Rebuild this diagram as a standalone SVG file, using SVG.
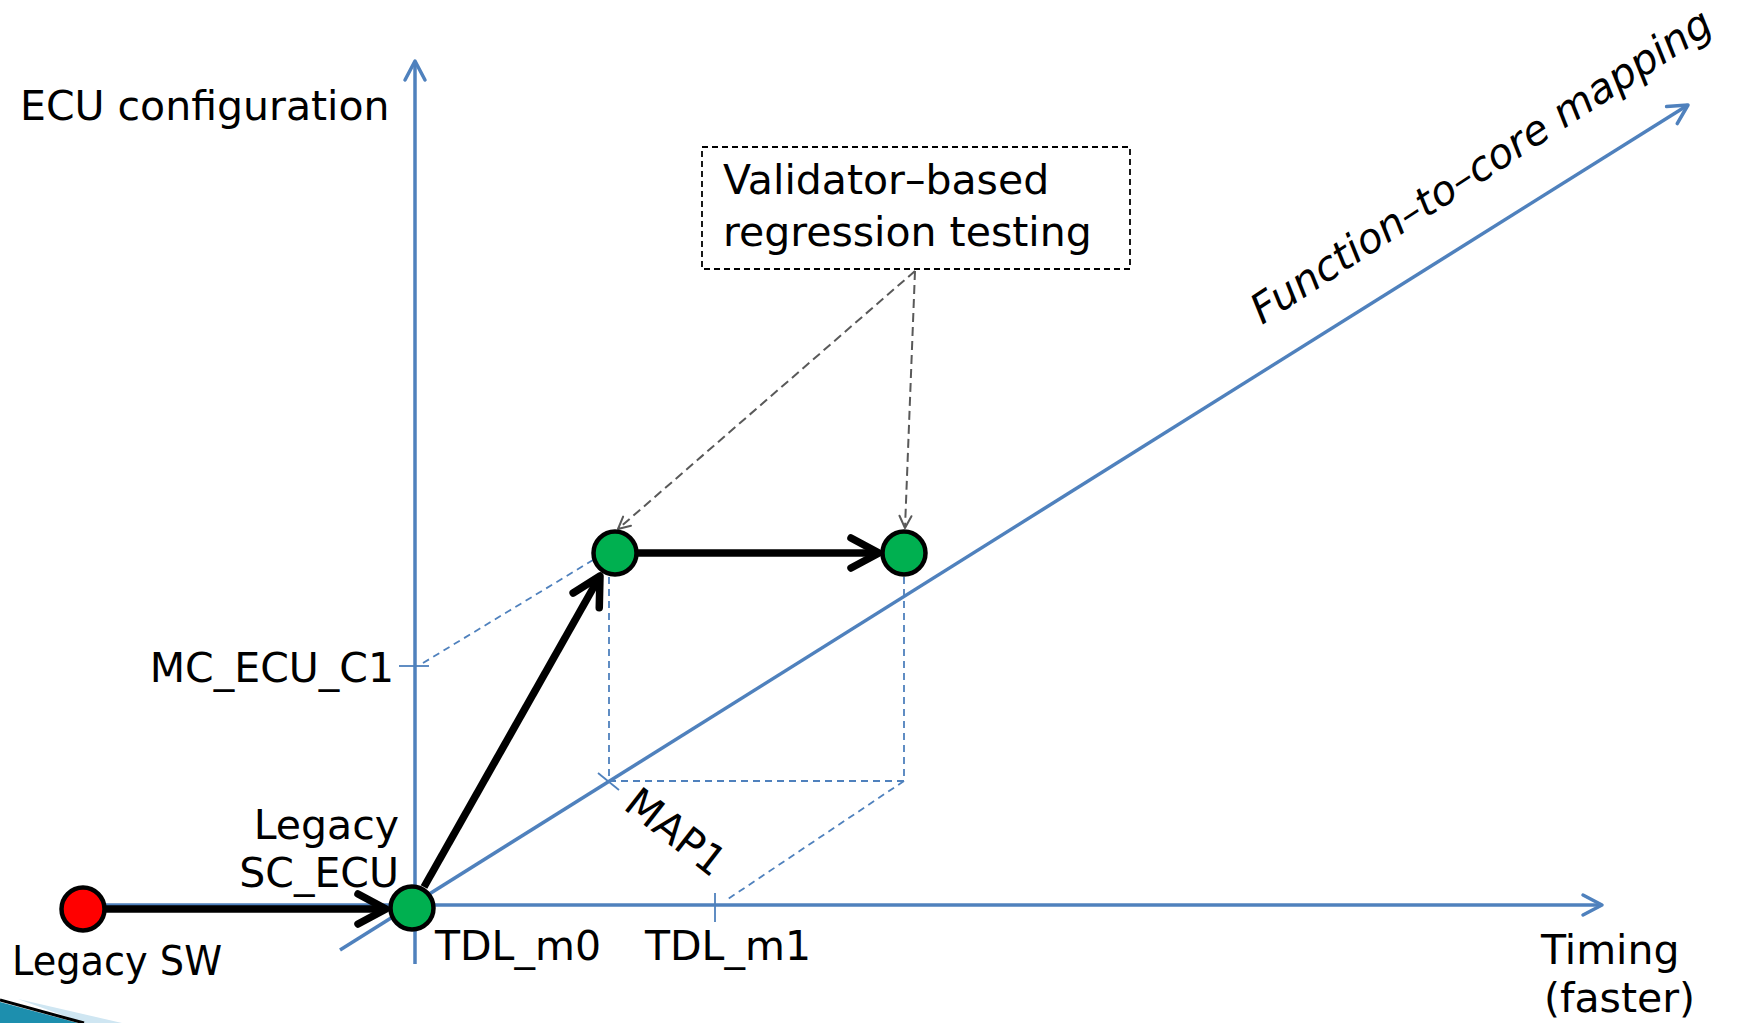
<svg xmlns="http://www.w3.org/2000/svg" width="1738" height="1023" viewBox="0 0 1738 1023">
  <style>
    text { font-family: "DejaVu Sans", "Liberation Sans", sans-serif; font-size: 41px; fill: #000; }
    .axis { stroke: #4f81bd; stroke-width: 3.5; fill: none; }
    .tick { stroke: #4f81bd; stroke-width: 1.8; fill: none; }
    .guide { stroke: #4f81bd; stroke-width: 1.8; fill: none; stroke-dasharray: 7 5; }
    .link { stroke: #000; stroke-width: 7.5; fill: none; }
    .ref { stroke: #595959; stroke-width: 2; fill: none; stroke-dasharray: 9 5; }
    .node { stroke: #000; stroke-width: 4.5; }
    .green { fill: #00b050; }
    .red { fill: #ff0000; }
  </style>
  <defs>
    <marker id="headBlue" markerUnits="userSpaceOnUse" viewBox="-25 -15 30 30" markerWidth="30" markerHeight="30" refX="0" refY="0" orient="auto" overflow="visible">
      <path d="M-19,-10 L0,0 L-19,10" fill="none" stroke="#4f81bd" stroke-width="3.5" stroke-linecap="round" stroke-linejoin="round"/>
    </marker>
    <marker id="headBlack" markerUnits="userSpaceOnUse" viewBox="-35 -20 40 40" markerWidth="40" markerHeight="40" refX="0" refY="0" orient="auto" overflow="visible">
      <path d="M-28,-15 L0,0 L-28,15" fill="none" stroke="#000" stroke-width="7.5" stroke-linecap="round" stroke-linejoin="round"/>
    </marker>
    <marker id="headGray" markerUnits="userSpaceOnUse" viewBox="-16 -10 20 20" markerWidth="20" markerHeight="20" refX="0" refY="0" orient="auto" overflow="visible">
      <path d="M-12,-6 L0,0 L-12,6" fill="none" stroke="#595959" stroke-width="2" stroke-linecap="round" stroke-linejoin="round"/>
    </marker>
  </defs>

  <!-- corner bullet decoration -->
  <g id="corner">
    <polygon points="18,999 122,1023 84,1023" fill="#cfe6f2"/>
    <polygon points="0,1002 78,1023 0,1023" fill="#1d8fae"/>
    <line x1="0" y1="1000" x2="84" y2="1023" stroke="#000" stroke-width="3"/>
  </g>

  <!-- axes and guides -->
  <g id="connectors">
    <line class="axis" x1="415" y1="964" x2="415" y2="61" marker-end="url(#headBlue)"/>
    <line class="axis" x1="83" y1="905" x2="1602" y2="905" marker-end="url(#headBlue)"/>
    <line class="axis" x1="340" y1="950" x2="1688" y2="105" marker-end="url(#headBlue)"/>

    <line class="tick" x1="399" y1="666" x2="429" y2="666"/>
    <line class="tick" x1="715" y1="893" x2="715" y2="922"/>
    <line class="tick" x1="598" y1="773" x2="619" y2="790"/>

    <line class="guide" x1="423" y1="663" x2="593" y2="560"/>
    <line class="guide" x1="609" y1="577" x2="609" y2="781"/>
    <line class="guide" x1="609" y1="781" x2="905" y2="781"/>
    <line class="guide" x1="904" y1="577" x2="904" y2="781"/>
    <line class="guide" x1="904" y1="781" x2="728" y2="899"/>

    <line class="ref" x1="915" y1="271" x2="618" y2="529" marker-end="url(#headGray)"/>
    <line class="ref" x1="915" y1="271" x2="905" y2="528" marker-end="url(#headGray)"/>

    <line class="link" x1="105" y1="909" x2="386" y2="909" marker-end="url(#headBlack)"/>
    <line class="link" x1="424" y1="887" x2="600" y2="576" marker-end="url(#headBlack)"/>
    <line class="link" x1="637" y1="553" x2="879" y2="553" marker-end="url(#headBlack)"/>
  </g>

  <g id="legacy-sw">
    <circle class="node red" cx="83" cy="909" r="21.5"/>
    <text x="12" y="975" textLength="210" lengthAdjust="spacingAndGlyphs">Legacy SW</text>
  </g>
  <g id="legacy-sc-ecu">
    <circle class="node green" cx="412" cy="908" r="21.5"/>
    <text x="399" y="839" text-anchor="end">Legacy</text>
    <text x="399" y="887" text-anchor="end">SC_ECU</text>
  </g>
  <g id="mc-ecu-c1">
    <circle class="node green" cx="615" cy="553" r="21.5"/>
  </g>
  <g id="mc-ecu-next">
    <circle class="node green" cx="904" cy="553" r="21.5"/>
  </g>

  <g id="regression-note">
    <rect x="702" y="147" width="428" height="122" fill="none" stroke="#000" stroke-width="1.8" stroke-dasharray="6 4"/>
    <text x="723" y="194">Validator–based</text>
    <text x="723" y="246">regression testing</text>
  </g>

  <g id="labels">
    <text x="20" y="120">ECU configuration</text>
    <text x="394" y="682" text-anchor="end">MC_ECU_C1</text>
    <text x="435" y="960">TDL_m0</text>
    <text x="645" y="960">TDL_m1</text>
    <text x="622" y="808" font-size="32" transform="rotate(38 622 808)">MAP1</text>
    <text x="1541" y="964">Timing</text>
    <text x="1544" y="1012">(faster)</text>
    <text x="1262" y="325" font-size="43" font-style="italic" transform="rotate(-33 1262 325)">Function–to–core mapping</text>
  </g>
</svg>
